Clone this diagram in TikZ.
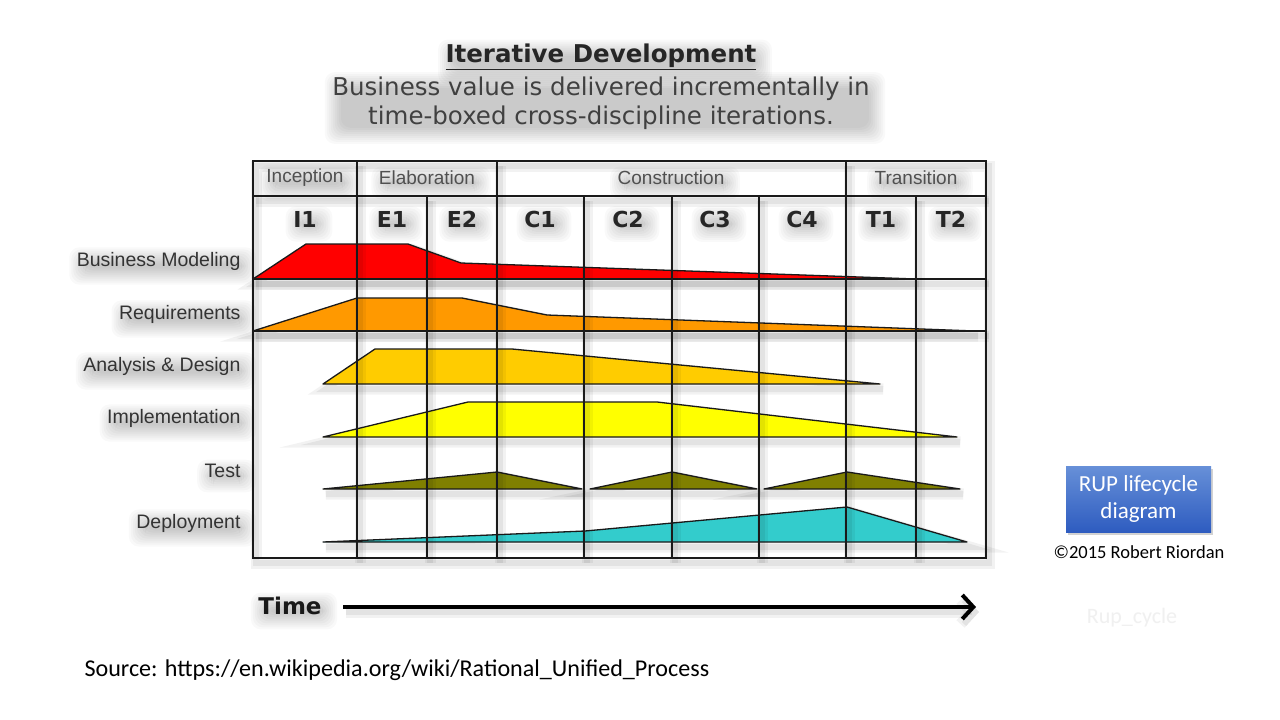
\documentclass[tikz,border=0pt]{standalone}
\usepackage{fontspec}
\setmainfont{Liberation Sans}
\newfontfamily\verdfont{DejaVu Sans}
\newfontfamily\calfont{Carlito}
\usetikzlibrary{arrows.meta,shadows,calc}

\definecolor{bmred}{HTML}{FF0000}
\definecolor{reqorange}{HTML}{FF9900}
\definecolor{adgold}{HTML}{FFCC00}
\definecolor{implyellow}{HTML}{FFFF00}
\definecolor{testolive}{HTML}{808000}
\definecolor{depcyan}{HTML}{33CCCC}
\definecolor{gridink}{HTML}{1A1A1A}
\definecolor{labelink}{HTML}{333333}
\definecolor{phaseink}{HTML}{505050}
\definecolor{boxtop}{HTML}{6790D8}
\definecolor{boxbot}{HTML}{2E5CC0}
\definecolor{faintink}{HTML}{F0F0F0}

\pgfdeclarelayer{background}
\pgfsetlayers{background,main}

\tikzset{
  x=1pt, y=-1pt,
  % soft grey halo under lines
  haze/.style={
    preaction={draw=black, draw opacity=0.05, line width=11pt, transform canvas={shift={(3pt,-5pt)}}},
    preaction={draw=black, draw opacity=0.06, line width=6pt, transform canvas={shift={(3pt,-5pt)}}}},
  gridline/.style={draw=gridink, line width=1.8pt, haze},
  band/.style={draw=gridink, line width=1.3pt, line join=round},
  phase/.style={font=\fontsize{19}{22}\selectfont, text=phaseink},
  iter/.style={font=\verdfont\bfseries\fontsize{22}{25}\selectfont, text=black!85},
  discipline/.style={font=\fontsize{19.5}{22}\selectfont, text=labelink, anchor=east},
  halo/.style={fill=black, fill opacity=0.022, rounded corners=10pt},
  rupbox/.style={top color=boxtop, bottom color=boxbot, draw=none,
    minimum width=145pt, minimum height=66pt, inner sep=0pt, align=center,
    text=white, font=\calfont\fontsize{23}{27}\selectfont,
    drop shadow={opacity=0.35, shadow xshift=2pt, shadow yshift=-3pt}},
}

% soft shadow behind a label node: stacked translucent rounded boxes
\newcommand\labelhalo[1]{%
  \begin{pgfonlayer}{background}
    \foreach \g in {-8,-6,-4,-2,0,2,4,6,8} {
      \fill[halo] ($(#1.north west)+(4-\g,7-\g)$) rectangle ($(#1.south east)+(4+\g,3+\g)$);
    }
  \end{pgfonlayer}}

\begin{document}
\begin{tikzpicture}
\useasboundingbox (0,0) rectangle (1280,720);
\begin{pgfonlayer}{background}
\fill[white] (0,0) rectangle (1280,720);
\end{pgfonlayer}

% title and subtitle
\node[font=\verdfont\bfseries\fontsize{24.5}{28}\selectfont, text=black!85] (title) at (601,57) {\underline{Iterative Development}};
\node[font=\verdfont\fontsize{24.5}{29}\selectfont, text=black!75, align=center] (subtitle) at (601,103)
  {Business value is delivered incrementally in\\time-boxed cross-discipline iterations.};
\labelhalo{title}
\labelhalo{subtitle}

% discipline workload bands
\path[band, fill=bmred, haze] (253,279) -- (306,244) -- (408,244) -- (461,263) -- (916,279) -- cycle;
\path[band, fill=reqorange, haze] (253,331) -- (357,298) -- (462,298) -- (547,315) -- (975,331) -- cycle;
\path[band, fill=adgold, haze] (323,384) -- (375,349) -- (512,349) -- (880,384) -- cycle;
\path[band, fill=implyellow, haze] (323,437) -- (468,402) -- (657,402) -- (957,437) -- cycle;
\path[band, fill=testolive, haze] (323,489) -- (497,472) -- (582,489) -- cycle;
\path[band, fill=testolive, haze] (590,489) -- (672,472) -- (757,489) -- cycle;
\path[band, fill=testolive, haze] (764,489) -- (847,472) -- (960,489) -- cycle;
\path[band, fill=depcyan, haze] (323,542) -- (585,531) -- (847,507) -- (967,542) -- cycle;

% table grid
\draw[gridline] (253,161) rectangle (986,558);
\draw[gridline] (253,196) -- (986,196);
\draw[gridline] (253,279) -- (986,279);
\draw[gridline] (253,331) -- (986,331);
\foreach \px in {357,497,846} \draw[gridline] (\px,161) -- (\px,558);
\foreach \ix in {427,584,672,759,916} \draw[gridline] (\ix,196) -- (\ix,558);

% phase headers
\node[phase] (inception) at (305,178) {Inception};
\node[phase] (elaboration) at (427,178) {Elaboration};
\node[phase] (construction) at (671,178) {Construction};
\node[phase] (transition) at (916,178) {Transition};
\foreach \n in {inception,elaboration,construction,transition} {\labelhalo{\n}}

% iteration headers
\node[iter] (i1) at (305,219) {I1};
\node[iter] (e1) at (392,219) {E1};
\node[iter] (e2) at (462,219) {E2};
\node[iter] (c1) at (540,219) {C1};
\node[iter] (c2) at (628,219) {C2};
\node[iter] (c3) at (715,219) {C3};
\node[iter] (c4) at (802,219) {C4};
\node[iter] (t1) at (881,219) {T1};
\node[iter] (t2) at (951,219) {T2};
\foreach \n in {i1,e1,e2,c1,c2,c3,c4,t1,t2} {\labelhalo{\n}}

% discipline names
\node[discipline] (bm) at (244,261) {Business Modeling};
\node[discipline] (req) at (244,314) {Requirements};
\node[discipline] (ad) at (244,366) {Analysis \& Design};
\node[discipline] (impl) at (244,418) {Implementation};
\node[discipline] (test) at (244,471) {Test};
\node[discipline] (dep) at (244,523) {Deployment};
\foreach \n in {bm,req,ad,impl,test,dep} {\labelhalo{\n}}

% time axis
\node[font=\verdfont\bfseries\fontsize{23}{26}\selectfont, text=black!90] (time) at (290,606) {Time};
\labelhalo{time}
\coordinate (timeend) at (976,607);
\draw[line width=4pt, -{Straight Barb[length=11pt,width=24pt]}, haze] (343,607) -- (timeend);

% side notes
\node[rupbox] (rup) at (1138.5,499) {RUP lifecycle\\diagram};
\node[font=\calfont\fontsize{18.5}{22}\selectfont] (copy) at (1139,552) {©2015 Robert Riordan};
\node[font=\calfont\fontsize{22}{26}\selectfont, text=faintink] (rupcycle) at (1132,618) {Rup\_cycle};
\node[font=\calfont\fontsize{24.1}{28}\selectfont, anchor=west] (source) at (81,670) {Source: https://en.wikipedia.org/wiki/Rational\_Unified\_Process};
\end{tikzpicture}
\end{document}
